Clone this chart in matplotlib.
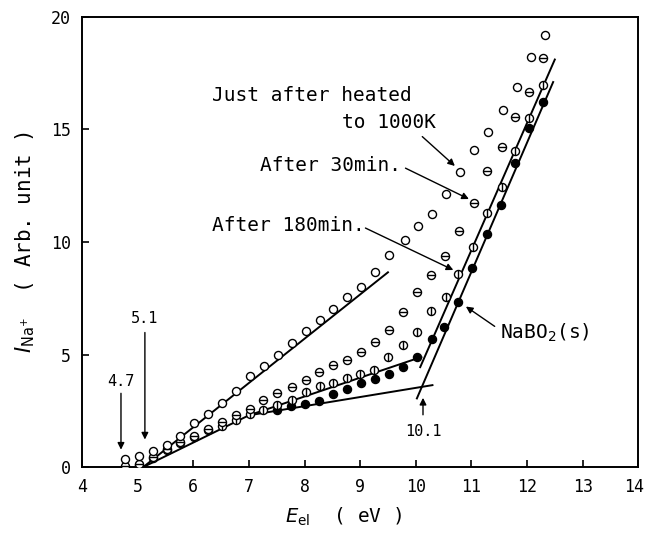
import matplotlib
matplotlib.use("Agg")
import matplotlib.pyplot as plt
from matplotlib.transforms import ScaledTranslation

plt.rcParams["font.family"] = ["DejaVu Sans Mono", "DejaVu Sans"]

# just after heated to 1000K (open circles)
x_open = [4.77, 5.02, 5.27, 5.52, 5.77, 6.02, 6.27, 6.52, 6.77, 7.02, 7.27,
          7.52, 7.77, 8.02, 8.27, 8.52, 8.77, 9.02, 9.27, 9.52, 9.80, 10.04,
          10.29, 10.55, 10.80, 11.05, 11.30, 11.57, 11.82, 12.08, 12.33]
y_open = [0.36, 0.5, 0.7, 1.0, 1.38, 1.95, 2.35, 2.85, 3.4, 4.05, 4.5,
          5.0, 5.5, 6.05, 6.55, 7.0, 7.55, 8.0, 8.65, 9.42, 10.1, 10.7,
          11.24, 12.13, 13.1, 14.1, 14.9, 15.87, 16.9, 18.2, 19.2]

# after 30 min (circle with horizontal bar)
x_30 = [4.77, 5.02, 5.27, 5.52, 5.77, 6.02, 6.27, 6.52, 6.77, 7.02, 7.26,
        7.51, 7.78, 8.03, 8.26, 8.51, 8.77, 9.02, 9.27, 9.52, 9.77, 10.03,
        10.28, 10.53, 10.78, 11.05, 11.28, 11.55, 11.79, 12.04, 12.29]
y_30 = [0.05, 0.15, 0.45, 0.8, 1.1, 1.4, 1.7, 2.0, 2.3, 2.6, 2.98,
        3.29, 3.56, 3.87, 4.22, 4.53, 4.76, 5.11, 5.55, 6.09, 6.89, 7.78,
        8.53, 9.38, 10.49, 11.73, 13.16, 14.2, 15.55, 16.67, 18.18]

# after 180 min (circle with vertical bar)
x_180 = [5.02, 5.27, 5.52, 5.77, 6.02, 6.27, 6.52, 6.77, 7.02, 7.26, 7.51,
         7.78, 8.03, 8.28, 8.51, 8.77, 9.0, 9.25, 9.5, 9.77, 10.02, 10.28,
         10.55, 10.76, 11.03, 11.28, 11.55, 11.79, 12.04, 12.29]
y_180 = [0.1, 0.4, 0.76, 1.07, 1.33, 1.64, 1.82, 2.1, 2.35, 2.53, 2.75,
         2.98, 3.35, 3.6, 3.73, 3.96, 4.13, 4.3, 4.89, 5.42, 6.0, 6.93,
         7.56, 8.58, 9.78, 11.29, 12.44, 14.04, 15.5, 16.98]

# NaBO2(s) (filled circles)
x_nabo = [7.51, 7.76, 8.01, 8.26, 8.51, 8.77, 9.02, 9.27, 9.52, 9.77, 10.03,
          10.29, 10.51, 10.76, 11.01, 11.28, 11.54, 11.79, 12.04, 12.29]
y_nabo = [2.53, 2.7, 2.82, 2.95, 3.24, 3.47, 3.73, 3.91, 4.13, 4.44, 4.89,
          5.69, 6.22, 7.33, 8.85, 10.36, 11.64, 13.5, 15.07, 16.22]

# drawn straight lines
line1_x, line1_y = [5.1, 9.5], [0.0, 8.65]
line2_x, line2_y = [5.1, 7.0, 10.1], [0.0, 2.3, 4.89]
line3_x, line3_y = [7.0, 10.3], [2.3, 3.64]
line4_x, line4_y = [10.08, 12.5], [4.44, 18.1]
line5_x, line5_y = [10.02, 12.47], [3.05, 17.1]

fig = plt.figure(figsize=(6.46, 5.4), dpi=100)
ax = fig.add_axes([0.127, 0.135, 0.861, 0.834])

for lx, ly in [(line1_x, line1_y), (line2_x, line2_y), (line3_x, line3_y),
               (line4_x, line4_y), (line5_x, line5_y)]:
    ax.plot(lx, ly, color="black", lw=1.4, zorder=2)

ms = 5.8
ax.plot(x_nabo, y_nabo, "o", ms=ms, mfc="black", mec="black", mew=1, zorder=3)
ax.plot(x_180, y_180, "o", ms=ms, mfc="white", mec="black", mew=1, zorder=4)
ax.plot(x_180, y_180, "|", ms=ms, mec="black", mew=1, zorder=4)
ax.plot(x_30, y_30, "o", ms=ms, mfc="white", mec="black", mew=1, zorder=5)
ax.plot(x_30, y_30, "_", ms=ms, mec="black", mew=1, zorder=5)
ax.plot(x_open, y_open, "o", ms=ms, mfc="white", mec="black", mew=1, zorder=6)

arrow = dict(arrowstyle="-|>", color="black", lw=1.0, mutation_scale=10)
fs = 14
ax.text(6.34, 16.5, "Just after heated", fontsize=fs, va="center")
ax.text(8.68, 15.3, "to 1000K", fontsize=fs, va="center")
ax.annotate("", xy=(10.74, 13.29), xytext=(10.08, 14.76), arrowprops=arrow)
ax.text(7.2, 13.4, "After 30min.", fontsize=fs, va="center")
ax.annotate("", xy=(11.0, 11.85), xytext=(9.77, 13.33), arrowprops=arrow)
ax.text(6.34, 10.75, "After 180min.", fontsize=fs, va="center")
ax.annotate("", xy=(10.72, 8.7), xytext=(9.05, 10.67), arrowprops=arrow)
ax.text(11.52, 5.95, r"NaBO$_2$(s)", fontsize=fs, va="center")
ax.annotate("", xy=(10.86, 7.2), xytext=(11.46, 6.18), arrowprops=arrow)
ax.text(10.13, 1.6, "10.1", fontsize=11, ha="center", va="center")
ax.annotate("", xy=(10.13, 3.2), xytext=(10.13, 2.2), arrowprops=arrow)
ax.text(4.7, 3.82, "4.7", fontsize=11, ha="center", va="center")
ax.annotate("", xy=(4.7, 0.65), xytext=(4.7, 3.4), arrowprops=arrow)
ax.text(5.13, 6.58, "5.1", fontsize=11, ha="center", va="center")
ax.annotate("", xy=(5.13, 1.1), xytext=(5.13, 6.1), arrowprops=arrow)

ax.set_xlim(4, 14)
ax.set_ylim(0, 20)
ax.set_xticks(range(4, 15))
ax.set_yticks([0, 5, 10, 15, 20])
ax.tick_params(direction="in", length=5, width=1.2, labelsize=12, pad=8)
last = ax.get_xticklabels()[-1]
last.set_transform(last.get_transform() + ScaledTranslation(-0.04, 0, fig.dpi_scale_trans))
for s in ax.spines.values():
    s.set_linewidth(1.4)
ax.set_xlabel(r"$E_{\mathrm{el}}$  ( eV )", fontsize=14, labelpad=4)
ax.xaxis.set_label_coords(0.47, -0.085)
ax.set_ylabel(r"$I_{\mathrm{Na}^{+}}$  ( Arb. unit )", fontsize=15, labelpad=10)

fig.savefig("out.png", dpi=100)
